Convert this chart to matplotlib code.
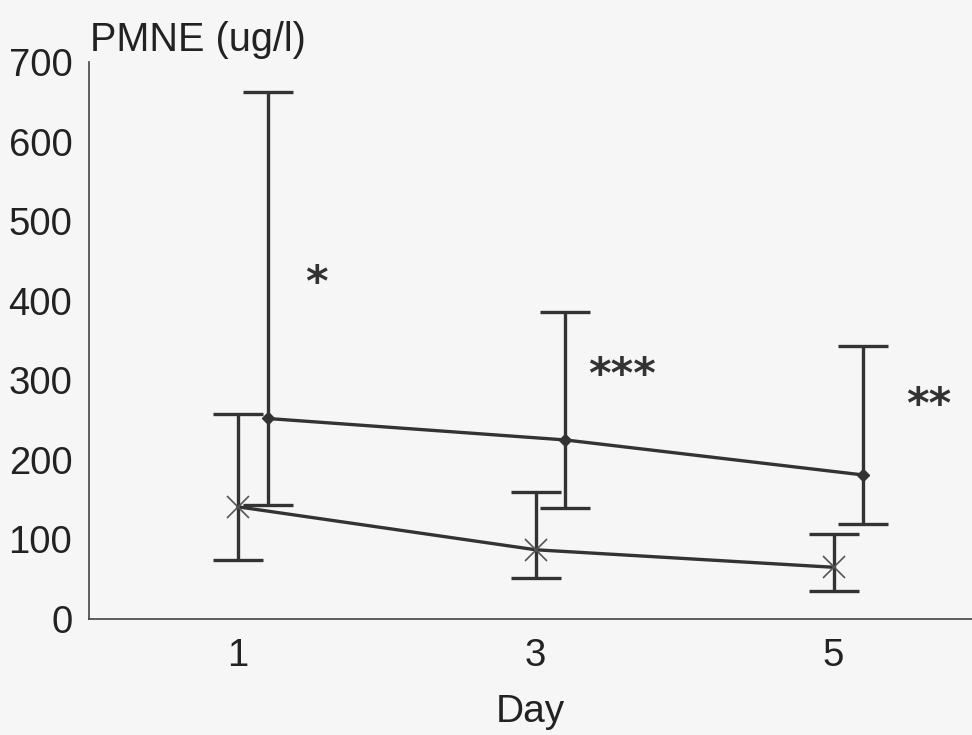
import matplotlib.pyplot as plt

plt.rcParams['font.family'] = ['Liberation Sans', 'DejaVu Sans']

days = [1, 3, 5]
day_labels = ['1', '3', '5']

# upper series (diamond markers), drawn slightly right of each day
upper_mean = [252, 225, 181]
upper_low = [143, 139, 119]
upper_high = [662, 386, 343]

# lower series (cross markers)
lower_mean = [141, 87, 65]
lower_low = [74, 52, 35]
lower_high = [258, 160, 107]

stars = ['*', '***', '**']
star_x = [1.53, 3.58, 5.64]
star_y = [432, 316, 279]

bg = '#f6f6f6'
ink = '#333333'

fig = plt.figure(figsize=(9.72, 7.35), dpi=100, facecolor=bg)
ax = fig.add_axes([89 / 972, 116 / 735, 883 / 972, 557 / 735], facecolor=bg)

bar_style = dict(color=ink, lw=2.4, elinewidth=2.4, capsize=18, capthick=2.4, zorder=3)

xu = [d + 0.2 for d in days]
ax.errorbar(xu, upper_mean,
            yerr=[[m - l for m, l in zip(upper_mean, upper_low)],
                  [h - m for m, h in zip(upper_mean, upper_high)]],
            marker='D', ms=6, mfc=ink, mec=ink, **bar_style)
ax.errorbar(days, lower_mean,
            yerr=[[m - l for m, l in zip(lower_mean, lower_low)],
                  [h - m for m, h in zip(lower_mean, lower_high)]],
            **bar_style)
ax.plot(days, lower_mean, ls='none', marker='x', ms=16, mew=1.2,
        mec='#555555', zorder=4)

# significance stars, nudged down so the glyphs sit centred on star_y
for x, s, y in zip(star_x, stars, star_y):
    ax.text(x, y - 11, s, fontsize=31, family='DejaVu Sans',
            fontweight='bold', ha='center', va='center', color=ink)

ax.set_xlim(0, 5.93)
ax.set_ylim(0, 700)
ax.set_xticks(days)
ax.set_xticklabels(day_labels)
ax.set_yticks(range(0, 701, 100))
ax.tick_params(length=0, labelsize=27.5, colors='#222222', pad=14)
ax.tick_params(axis='y', pad=12)
for side in ['top', 'right']:
    ax.spines[side].set_visible(False)
for side in ['left', 'bottom']:
    ax.spines[side].set_color('#444444')
    ax.spines[side].set_linewidth(1.2)

ax.set_xlabel('Day', fontsize=28, color='#222222', labelpad=14)
fig.text(90 / 972, 1 - 40 / 735, 'PMNE (ug/l)', fontsize=28.5, color='#222222',
         ha='left', va='center')

fig.savefig('out.png', dpi=100, facecolor=bg)
